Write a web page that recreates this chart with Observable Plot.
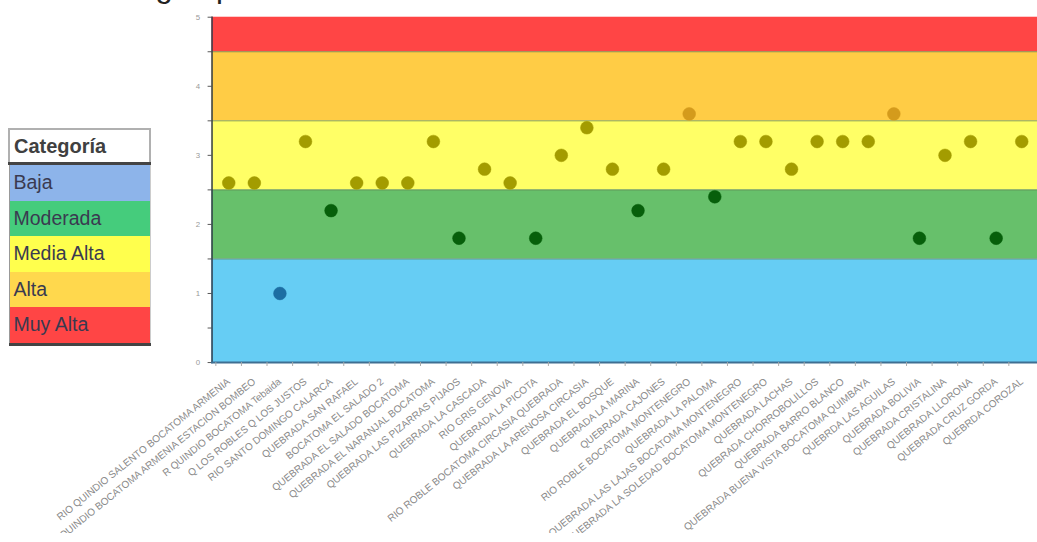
<!DOCTYPE html>
<html>
<head>
<meta charset="utf-8">
<script src="https://cdn.jsdelivr.net/npm/d3@7"></script>
<script src="https://cdn.jsdelivr.net/npm/@observablehq/plot@0.6"></script>
<style>
  html, body { margin: 0; padding: 0; background: #fff; overflow: hidden; }
  #wrap { position: relative; width: 1037px; height: 542px; overflow: hidden; font-family: "Liberation Sans", Arial, sans-serif; }
  #chart { position: absolute; left: 0; top: 0; }
  #title { position: absolute; right: 504px; top: -29px; font-size: 31px; line-height: 31px; white-space: nowrap; color: #222; }
  #legend { position: absolute; left: 8px; top: 128px; width: 143px; border-collapse: collapse; font-family: "Liberation Sans", Arial, sans-serif; }
  #legend td { padding: 0 0 0 4px; height: 35.5px; font-size: 19.5px; color: #3a3a50; border-left: 1px solid #999; border-right: 1px solid #ccc; }
  #legend tr.head td { background: #fff; font-weight: bold; font-size: 20px; color: #404040; border: 2px solid #b0b0b0; border-bottom: 3px solid #444; height: 32px; }
  #legend tr.last td { border-bottom: 3px solid #444; }
</style>
</head>
<body>
<div id="wrap">
  <div id="chart"></div>
  <div id="title">Índice de riesgo por uso concentrado de agua para consumo humano</div>
  <table id="legend"></table>
</div>
<script>
// ---- data ----
const sitios = [
  "RIO QUINDIO SALENTO BOCATOMA ARMENIA",
  "R QUINDIO BOCATOMA ARMENIA ESTACION BOMBEO",
  "R QUINDIO BOCATOMA Tebaida",
  "Q LOS ROBLES Q LOS JUSTOS",
  "RIO SANTO DOMINGO CALARCA",
  "QUEBRADA SAN RAFAEL",
  "BOCATOMA EL SALADO 2",
  "QUEBRADA EL SALADO BOCATOMA",
  "QUEBRADA EL NARANJAL BOCATOMA",
  "QUEBRADA LAS PIZARRAS PIJAOS",
  "QUEBRADA LA CASCADA",
  "RIO GRIS GENOVA",
  "QUEBRADA LA PICOTA",
  "RIO ROBLE BOCATOMA CIRCASIA QUEBRADA",
  "QUEBRADA LA ARENOSA CIRCASIA",
  "QUEBRADA EL BOSQUE",
  "QUEBRADA LA MARINA",
  "QUEBRADA CAJONES",
  "RIO ROBLE BOCATOMA MONTENEGRO",
  "QUEBRADA LA PALOMA",
  "QUEBRADA LAS LAJAS BOCATOMA MONTENEGRO",
  "QUEBRADA LA SOLEDAD BOCATOMA MONTENEGRO",
  "QUEBRADA LACHAS",
  "QUEBRADA CHORROBOLILLOS",
  "QUEBRADA BARRO BLANCO",
  "QUEBRADA BUENA VISTA BOCATOMA QUIMBAYA",
  "QUEBRDA LAS AGUILAS",
  "QUEBRADA BOLIVIA",
  "QUEBRADA CRISTALINA",
  "QUEBRADA LLORONA",
  "QUEBRADA CRUZ GORDA",
  "QUEBRDA COROZAL"
];
const valores = [2.6, 2.6, 1.0, 3.2, 2.2, 2.6, 2.6, 2.6, 3.2, 1.8, 2.8, 2.6, 1.8, 3.0, 3.4, 2.8,
                 2.2, 2.8, 3.6, 2.4, 3.2, 3.2, 2.8, 3.2, 3.2, 3.2, 3.6, 1.8, 3.0, 3.2, 1.8, 3.2];
const categorias = ["Baja", "Moderada", "Media Alta", "Alta", "Muy Alta"];
const limiteInferior = [0, 1.5, 2.5, 3.5, 4.5];
const limiteSuperior = [1.5, 2.5, 3.5, 4.5, 5];
const ticksY = [0, 0.5, 1, 1.5, 2, 2.5, 3, 3.5, 4, 4.5, 5];

// ---- styles ----
const colorBanda = {"Baja": "#66cdf4", "Moderada": "#67c06b", "Media Alta": "#ffff66", "Alta": "#ffcc45", "Muy Alta": "#ff4545"};
const colorPunto = {"Baja": "#1d6ea3", "Moderada": "#075f0b", "Media Alta": "#a39c00", "Alta": "#d49b1c", "Muy Alta": "#a01010"};
const colorLeyenda = {"Baja": "#8db4ea", "Moderada": "#45cc7c", "Media Alta": "#ffff4d", "Alta": "#ffd84d", "Muy Alta": "#ff4545"};

const bandas = categorias.map((c, i) => ({cat: c, lo: limiteInferior[i], hi: limiteSuperior[i]}));
const categoriaDe = v => bandas.find(b => v >= b.lo && v < b.hi)?.cat ?? "Muy Alta";
const datos = sitios.map((s, i) => ({sitio: s, valor: valores[i]}));

const width = 1054, marginLeft = 215;
const step = (width - marginLeft) / sitios.length;

const chart = Plot.plot({
  width, height: 542,
  marginLeft, marginRight: 0, marginTop: 17, marginBottom: 174,
  style: {background: "transparent", fontFamily: "'Liberation Sans', Arial, sans-serif"},
  x: {type: "band", domain: sitios, padding: 0, axis: null, label: null},
  y: {domain: [0, 5], axis: null, label: null},
  marks: [
    Plot.rect(bandas, {y1: "lo", y2: "hi", fill: d => colorBanda[d.cat]}),
    Plot.ruleY(limiteInferior.slice(1), {stroke: "#5c7d4e", strokeOpacity: 0.75, strokeWidth: 1}),
    Plot.dot(datos, {x: "sitio", y: "valor", r: 6.5, fill: d => colorPunto[categoriaDe(d.valor)], stroke: d => colorPunto[categoriaDe(d.valor)], strokeOpacity: 0.5, strokeWidth: 1}),
    Plot.axisY({ticks: ticksY, tickFormat: d => Number.isInteger(d) ? d : "", tickSize: 4, tickPadding: 8, fontSize: 8, stroke: "#555", fill: "#999", label: null}),
    Plot.frame({anchor: "left", stroke: "#2e3a48", strokeWidth: 1.5}),
    Plot.frame({anchor: "bottom", stroke: "#3f6f92", strokeWidth: 2}),
    Plot.axisX({tickSize: 4, tickFormat: () => "", dx: -step / 2, stroke: "#aaa", label: null}),
    Plot.axisX({tickSize: 0, tickRotate: -39, tickPadding: 18, fontSize: 10.2, fill: "#8a8a8a", label: null})
  ]
});
document.getElementById("chart").appendChild(chart);

// legend
const tbl = document.getElementById("legend");
const head = document.createElement("tr");
head.className = "head";
head.innerHTML = "<td>Categoría</td>";
tbl.appendChild(head);
categorias.forEach((c, i) => {
  const tr = document.createElement("tr");
  if (i === categorias.length - 1) tr.className = "last";
  const td = document.createElement("td");
  td.textContent = c;
  td.style.background = colorLeyenda[c];
  tr.appendChild(td);
  tbl.appendChild(tr);
});
</script>
</body>
</html>
